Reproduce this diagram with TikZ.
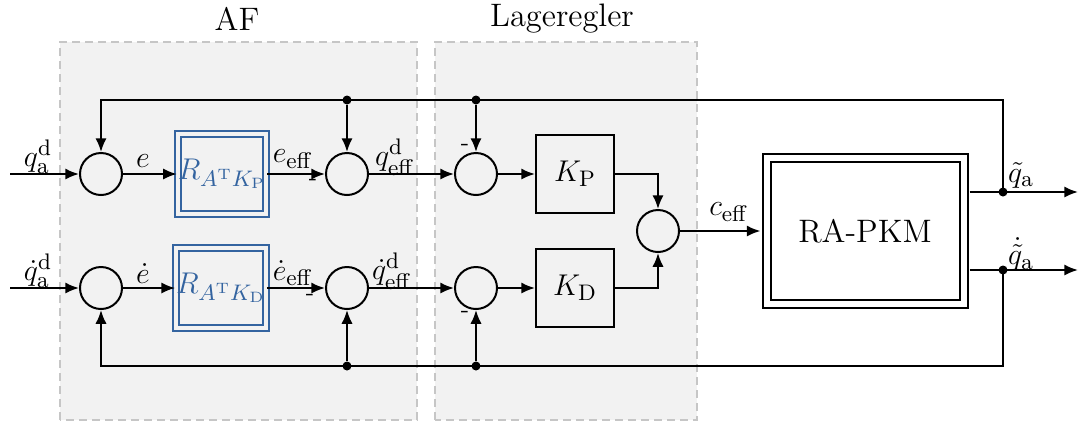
\documentclass[tikz,border=0pt,12pt]{standalone}
\usepackage{amsmath}
\usepackage{amssymb}
\usetikzlibrary{
  arrows.meta,
  positioning,
  calc
}
\definecolor{rblue}{RGB}{52,100,160}

\begin{document}
\begin{tikzpicture}[
        x=0.4pt, y=0.4pt,
        every node/.style={font=\fontsize{13}{15}\selectfont},
        >={Latex[length=5.5pt,width=4.5pt]},
        sumnode/.style={draw, thick, circle, minimum size=16.8pt, inner sep=0pt},
        gainbox/.style={draw, thick, fill=gray!10, minimum size=31.2pt, inner sep=0pt},
        rbox/.style={draw=rblue, thick, double=gray!10, double distance=1.6pt,
            minimum size=32pt, inner sep=0pt, text=rblue},
        plantbox/.style={draw, thick, double, double distance=2.4pt,
            minimum width=78.8pt, minimum height=58.4pt},
        dot/.style={circle, fill, inner sep=0pt, minimum size=3.6pt},
        minus/.style={font=\footnotesize, inner sep=0pt},
        area/.style={draw=gray!45, fill=gray!10, thick, dash pattern=on 3.2pt off 2pt}
    ]
        \useasboundingbox (0,0) rectangle (1078,423);
        % Hintergrund
        \draw[area] (60,3) rectangle (417,381);
        \draw[area] (435,3) rectangle (697,381);
        \node (af) at (237,404) {AF};
        \node (lr) at (562,404) {Lageregler};

        % Knoten
        \node[sumnode] (s1) at (101,249) {};
        \node[sumnode] (s1d) at (101,135) {};
        \node[rbox] (rp) at (222,249) {$R_{A^{\mathrm{T}}K_{\mathrm{P}}}$};
        \node[rbox] (rd) at (221,135) {$R_{A^{\mathrm{T}}K_{\mathrm{D}}}$};
        \node[sumnode] (s2) at (347,249) {};
        \node[sumnode] (s2d) at (347,135) {};
        \node[sumnode] (s3) at (476,249) {};
        \node[sumnode] (s3d) at (476,135) {};
        \node[gainbox] (kp) at (575,249) {$K_{\mathrm{P}}$};
        \node[gainbox] (kd) at (575,135) {$K_{\mathrm{D}}$};
        \node[sumnode] (s5) at (658,192) {};
        \node[plantbox] (pkm) at (865,192) {RA-PKM};

        \coordinate (in1) at (10,249);
        \coordinate (in2) at (10,135);
        \coordinate (out1) at (1078,231);
        \coordinate (out2) at (1078,153);
        \node[dot] (j1) at (347,323) {};
        \node[dot] (j2) at (476,323) {};
        \node[dot] (j3) at (1003,231) {};
        \node[dot] (j4) at (1003,153) {};
        \node[dot] (j5) at (347,57) {};
        \node[dot] (j6) at (476,57) {};

        % Vorwaertszweige
        \draw[thick, ->] (in1) -- (s1);
        \draw[thick, ->] (s1) -- (rp);
        \draw[thick, ->] (rp) -- (s2);
        \draw[thick, ->] (s2) -- (s3);
        \draw[thick, ->] (s3) -- (kp);
        \draw[thick, ->] (in2) -- (s1d);
        \draw[thick, ->] (s1d) -- (rd);
        \draw[thick, ->] (rd) -- (s2d);
        \draw[thick, ->] (s2d) -- (s3d);
        \draw[thick, ->] (s3d) -- (kd);
        \draw[thick, ->] (kp.east) -| (s5.north);
        \draw[thick, ->] (kd.east) -| (s5.south);
        \draw[thick, ->] (s5) -- ([xshift=-2pt]pkm.west);
        \draw[thick, ->] ([xshift=2pt]pkm.east |- j3) -- (out1);
        \draw[thick, ->] ([xshift=2pt]pkm.east |- j4) -- (out2);

        % Rueckfuehrung
        \draw[thick, ->] (j3.center) |- (j2.center) -- (j1.center) -| (s1);
        \draw[thick, ->] (j1) -- (s2);
        \draw[thick, ->] (j2) -- (s3);
        \draw[thick, ->] (j4.center) |- (j6.center) -- (j5.center) -| (s1d);
        \draw[thick, ->] (j5) -- (s2d);
        \draw[thick, ->] (j6) -- (s3d);

        % Beschriftungen
        \node (lqa) at (38,266) {$q_{\mathrm{a}}^{\mathrm{d}}$};
        \node (le) at (143,262) {$e$};
        \node (leff) at (293,264) {$e_{\mathrm{eff}}$};
        \node (lqeff) at (395,266) {$q_{\mathrm{eff}}^{\mathrm{d}}$};
        \node (ldqa) at (38,152) {$\dot{q}_{\mathrm{a}}^{\mathrm{d}}$};
        \node (lde) at (143,149) {$\dot{e}$};
        \node (ldeff) at (293,150) {$\dot{e}_{\mathrm{eff}}$};
        \node (ldqeff) at (392,152) {$\dot{q}_{\mathrm{eff}}^{\mathrm{d}}$};
        \node[minus] (m1) at (313,241) {-};
        \node[minus] (m2) at (310,126) {-};
        \node[minus] (m3) at (465,276) {-};
        \node[minus] (m4) at (465,109) {-};
        \node (lceff) at (729,211) {$c_{\mathrm{eff}}$};
        \node (lqt) at (1021,248) {$\tilde{q}_{\mathrm{a}}$};
        \node (ldqt) at (1021,169) {$\dot{\tilde{q}}_{\mathrm{a}}$};
    \end{tikzpicture}
\end{document}
